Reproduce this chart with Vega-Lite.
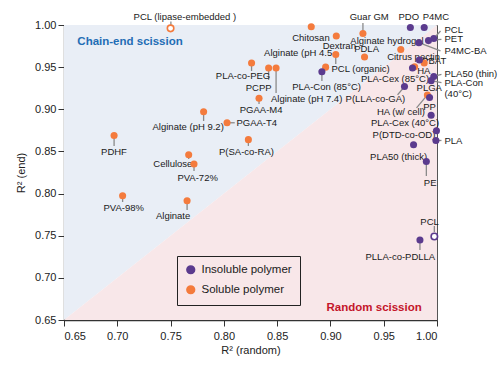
{
  "$schema": "https://vega.github.io/schema/vega-lite/v6.json",
  "width": 373,
  "height": 295,
  "autosize": {"type": "none"},
  "padding": {"left": 64, "top": 25, "right": 63, "bottom": 45},
  "config": {
    "font": "Liberation Sans",
    "view": {"stroke": "#555", "strokeWidth": 1},
    "axis": {"grid": false, "domainColor": "#333", "domainWidth": 1.3, "tickColor": "#333", "tickSize": 6, "labelColor": "#222", "labelFontSize": 11, "titleFontSize": 11, "titleFontWeight": "normal", "titleColor": "#222"}
  },
  "datasets": {
    "regions": [
      {"x": 0.65, "d": 0.65, "top": 1.0, "bottom": 0.65},
      {"x": 1.0, "d": 1.0, "top": 1.0, "bottom": 0.65}
    ],
    "points": [
      {"name": "PCL (lipase-embedded)", "x": 0.750, "y": 0.996, "type": "Soluble polymer", "hollow": true},
      {"name": "PLA-co-PEG", "x": 0.826, "y": 0.955, "type": "Soluble polymer", "hollow": false},
      {"name": "PCPP", "x": 0.842, "y": 0.949, "type": "Soluble polymer", "hollow": false},
      {"name": "Alginate (pH 7.4)", "x": 0.849, "y": 0.949, "type": "Soluble polymer", "hollow": false},
      {"name": "Alginate (pH 4.5)", "x": 0.8955, "y": 0.950, "type": "Soluble polymer", "hollow": false},
      {"name": "PCL (organic)", "x": 0.905, "y": 0.965, "type": "Soluble polymer", "hollow": false},
      {"name": "Chitosan", "x": 0.882, "y": 0.998, "type": "Soluble polymer", "hollow": false},
      {"name": "Dextran", "x": 0.9055, "y": 0.987, "type": "Soluble polymer", "hollow": false},
      {"name": "Guar GM", "x": 0.9305, "y": 0.990, "type": "Soluble polymer", "hollow": false},
      {"name": "PDLA", "x": 0.932, "y": 0.962, "type": "Soluble polymer", "hollow": false},
      {"name": "Citrus pectin", "x": 0.966, "y": 0.971, "type": "Soluble polymer", "hollow": false},
      {"name": "HA", "x": 0.988, "y": 0.955, "type": "Soluble polymer", "hollow": false},
      {"name": "Alginate hydrogel", "x": 0.979, "y": 0.9505, "type": "Soluble polymer", "hollow": false},
      {"name": "HA (w/ cell)", "x": 0.991, "y": 0.917, "type": "Soluble polymer", "hollow": false},
      {"name": "PGAA-M4", "x": 0.833, "y": 0.913, "type": "Soluble polymer", "hollow": false},
      {"name": "Alginate (pH 9.2)", "x": 0.781, "y": 0.897, "type": "Soluble polymer", "hollow": false},
      {"name": "PGAA-T4", "x": 0.803, "y": 0.884, "type": "Soluble polymer", "hollow": false},
      {"name": "PDHF", "x": 0.697, "y": 0.869, "type": "Soluble polymer", "hollow": false},
      {"name": "P(SA-co-RA)", "x": 0.823, "y": 0.864, "type": "Soluble polymer", "hollow": false},
      {"name": "Cellulose", "x": 0.767, "y": 0.846, "type": "Soluble polymer", "hollow": false},
      {"name": "PVA-72%", "x": 0.772, "y": 0.835, "type": "Soluble polymer", "hollow": false},
      {"name": "PVA-98%", "x": 0.705, "y": 0.7975, "type": "Soluble polymer", "hollow": false},
      {"name": "Alginate", "x": 0.7655, "y": 0.7915, "type": "Soluble polymer", "hollow": false},
      {"name": "PDO", "x": 0.975, "y": 0.997, "type": "Insoluble polymer", "hollow": false},
      {"name": "P4MC", "x": 0.988, "y": 0.997, "type": "Insoluble polymer", "hollow": false},
      {"name": "PCL", "x": 0.997, "y": 0.984, "type": "Insoluble polymer", "hollow": false},
      {"name": "PET", "x": 0.992, "y": 0.9815, "type": "Insoluble polymer", "hollow": false},
      {"name": "P4MC-BA", "x": 0.983, "y": 0.979, "type": "Insoluble polymer", "hollow": false},
      {"name": "PBAT", "x": 0.9835, "y": 0.9585, "type": "Insoluble polymer", "hollow": false},
      {"name": "PLA-Cex (85°C)", "x": 0.977, "y": 0.949, "type": "Insoluble polymer", "hollow": false},
      {"name": "PLA50 (thin)", "x": 0.997, "y": 0.939, "type": "Insoluble polymer", "hollow": false},
      {"name": "PLA-Con (40°C)", "x": 0.9945, "y": 0.934, "type": "Insoluble polymer", "hollow": false},
      {"name": "P(LLA-co-GA)", "x": 0.9695, "y": 0.927, "type": "Insoluble polymer", "hollow": false},
      {"name": "PLGA", "x": 0.993, "y": 0.914, "type": "Insoluble polymer", "hollow": false},
      {"name": "PP", "x": 0.9945, "y": 0.893, "type": "Insoluble polymer", "hollow": false},
      {"name": "PLA-Cex (40°C)", "x": 0.9995, "y": 0.8745, "type": "Insoluble polymer", "hollow": false},
      {"name": "PLA", "x": 0.999, "y": 0.863, "type": "Insoluble polymer", "hollow": false},
      {"name": "P(DTD-co-OD)", "x": 0.978, "y": 0.858, "type": "Insoluble polymer", "hollow": false},
      {"name": "PE", "x": 0.990, "y": 0.838, "type": "Insoluble polymer", "hollow": false},
      {"name": "PCL (bottom)", "x": 0.9975, "y": 0.749, "type": "Insoluble polymer", "hollow": true},
      {"name": "PLLA-co-PDLLA", "x": 0.984, "y": 0.745, "type": "Insoluble polymer", "hollow": false},
      {"name": "PLA-Con (85°C)", "x": 0.892, "y": 0.9445, "type": "Insoluble polymer", "hollow": false}
    ],
    "lines": [
      {"x": 0.7503, "y": 1.0, "x2": 0.7503, "y2": 1.0041},
      {"x": 0.826, "y": 0.955, "x2": 0.826, "y2": 0.9454},
      {"x": 0.842, "y": 0.949, "x2": 0.842, "y2": 0.9348},
      {"x": 0.849, "y": 0.949, "x2": 0.849, "y2": 0.9193},
      {"x": 0.905, "y": 0.965, "x2": 0.905, "y2": 0.9537},
      {"x": 0.892, "y": 0.9445, "x2": 0.892, "y2": 0.9336},
      {"x": 0.9305, "y": 0.990, "x2": 0.9305, "y2": 1.0024},
      {"x": 0.966, "y": 0.971, "x2": 0.966, "y2": 0.968},
      {"x": 0.9695, "y": 0.927, "x2": 0.963, "y2": 0.917},
      {"x": 0.991, "y": 0.917, "x2": 0.9808, "y2": 0.9016},
      {"x": 0.990, "y": 0.838, "x2": 0.990, "y2": 0.8209},
      {"x": 0.9975, "y": 0.7545, "x2": 0.9975, "y2": 0.7616},
      {"x": 0.984, "y": 0.745, "x2": 0.984, "y2": 0.7331},
      {"x": 0.999, "y": 0.863, "x2": 1.0042, "y2": 0.863},
      {"x": 0.997, "y": 0.984, "x2": 1.0033, "y2": 0.9929},
      {"x": 0.9948, "y": 0.9822, "x2": 1.0042, "y2": 0.983},
      {"x": 0.983, "y": 0.979, "x2": 1.0033, "y2": 0.9692},
      {"x": 0.997, "y": 0.939, "x2": 1.0042, "y2": 0.9413},
      {"x": 0.9945, "y": 0.934, "x2": 1.0042, "y2": 0.9316},
      {"x": 0.781, "y": 0.897, "x2": 0.781, "y2": 0.8861},
      {"x": 0.803, "y": 0.884, "x2": 0.8102, "y2": 0.884},
      {"x": 0.697, "y": 0.869, "x2": 0.697, "y2": 0.8565},
      {"x": 0.823, "y": 0.864, "x2": 0.823, "y2": 0.8565},
      {"x": 0.772, "y": 0.835, "x2": 0.772, "y2": 0.8268},
      {"x": 0.705, "y": 0.7975, "x2": 0.705, "y2": 0.79},
      {"x": 0.7655, "y": 0.7915, "x2": 0.7655, "y2": 0.7806},
      {"x": 0.833, "y": 0.913, "x2": 0.833, "y2": 0.9063},
      {"x": 0.767, "y": 0.846, "x2": 0.767, "y2": 0.841}
    ],
    "labels": [
      {"text": "PCL (lipase-embedded )", "x": 0.7634, "y": 1.0091, "anchor": "center"},
      {"text": "PLA-co-PEG", "x": 0.818, "y": 0.9395, "anchor": "center"},
      {"text": "PCPP", "x": 0.8327, "y": 0.9256, "anchor": "center"},
      {"text": "Alginate (pH 7.4)", "x": 0.8777, "y": 0.9119, "anchor": "center"},
      {"text": "Alginate (pH 4.5", "x": 0.8697, "y": 0.9664, "anchor": "center"},
      {"text": "PCL (organic)", "x": 0.9283, "y": 0.9478, "anchor": "center"},
      {"text": "PLA-Con (85°C)", "x": 0.8964, "y": 0.9261, "anchor": "center"},
      {"text": "Chitosan", "x": 0.8817, "y": 0.985, "anchor": "center"},
      {"text": "Dextran", "x": 0.9083, "y": 0.9751, "anchor": "center"},
      {"text": "Guar GM", "x": 0.9364, "y": 1.0091, "anchor": "center"},
      {"text": "Alginate hydrogel", "x": 0.9531, "y": 0.9814, "anchor": "center"},
      {"text": "PDLA", "x": 0.9339, "y": 0.9715, "anchor": "center"},
      {"text": "Citrus pectin", "x": 0.978, "y": 0.9624, "anchor": "center"},
      {"text": "PBAT", "x": 0.9973, "y": 0.9577, "anchor": "center"},
      {"text": "HA", "x": 0.9876, "y": 0.9454, "anchor": "center"},
      {"text": "PLA-Cex (85°C)", "x": 0.9606, "y": 0.936, "anchor": "center"},
      {"text": "P(LLA-co-GA)", "x": 0.9422, "y": 0.9119, "anchor": "center"},
      {"text": "PLGA", "x": 0.9927, "y": 0.9249, "anchor": "center"},
      {"text": "HA (w/ cell)", "x": 0.9662, "y": 0.8964, "anchor": "center"},
      {"text": "PP", "x": 0.993, "y": 0.9024, "anchor": "center"},
      {"text": "PLA-Cex (40°C)", "x": 0.97, "y": 0.8841, "anchor": "center"},
      {"text": "P(DTD-co-OD)", "x": 0.969, "y": 0.8695, "anchor": "center"},
      {"text": "PLA50 (thick)", "x": 0.964, "y": 0.843, "anchor": "center"},
      {"text": "PE", "x": 0.9936, "y": 0.813, "anchor": "center"},
      {"text": "PCL", "x": 0.993, "y": 0.7667, "anchor": "center"},
      {"text": "PLLA-co-PDLLA", "x": 0.9656, "y": 0.7245, "anchor": "center"},
      {"text": "PDO", "x": 0.9735, "y": 1.0098, "anchor": "center"},
      {"text": "P4MC", "x": 0.999, "y": 1.0098, "anchor": "center"},
      {"text": "PGAA-M4", "x": 0.835, "y": 0.8992, "anchor": "center"},
      {"text": "Alginate (pH 9.2)", "x": 0.7665, "y": 0.8794, "anchor": "center"},
      {"text": "PDHF", "x": 0.6969, "y": 0.849, "anchor": "center"},
      {"text": "P(SA-co-RA)", "x": 0.8212, "y": 0.849, "anchor": "center"},
      {"text": "Cellulose", "x": 0.7521, "y": 0.8351, "anchor": "center"},
      {"text": "PVA-72%", "x": 0.7754, "y": 0.8189, "anchor": "center"},
      {"text": "PVA-98%", "x": 0.706, "y": 0.7826, "anchor": "center"},
      {"text": "Alginate", "x": 0.7524, "y": 0.7735, "anchor": "center"},
      {"text": "PLA", "x": 1.007, "y": 0.8628, "anchor": "left"},
      {"text": "PCL", "x": 1.007, "y": 0.994, "anchor": "left"},
      {"text": "PET", "x": 1.007, "y": 0.983, "anchor": "left"},
      {"text": "P4MC-BA", "x": 1.007, "y": 0.9695, "anchor": "left"},
      {"text": "PLA50 (thin)", "x": 1.007, "y": 0.9419, "anchor": "left"},
      {"text": "PLA-Con", "x": 1.007, "y": 0.9316, "anchor": "left"},
      {"text": "(40°C)", "x": 1.007, "y": 0.9178, "anchor": "left"},
      {"text": "PGAA-T4", "x": 0.8118, "y": 0.8841, "anchor": "left"}
    ],
    "regionText": [
      {"text": "Chain-end scission", "x": 0.6625, "y": 0.9795, "kind": "chain"},
      {"text": "Random scission", "x": 0.9857, "y": 0.6647, "kind": "random"}
    ]
  },
  "layer": [
    {
      "data": {"name": "regions"},
      "mark": {"type": "area", "color": "#e9eef6", "opacity": 1},
      "encoding": {
        "x": {"field": "x", "type": "quantitative", "scale": {"domain": [0.65, 1.0], "nice": false, "zero": false}, "axis": {"values": [0.65, 0.7, 0.75, 0.8, 0.85, 0.9, 0.95, 1.0], "format": ".2f", "title": "R² (random)", "labelPadding": 4, "titlePadding": 3}},
        "y": {"field": "d", "type": "quantitative", "scale": {"domain": [0.65, 1.0], "nice": false, "zero": false}, "axis": {"values": [0.65, 0.7, 0.75, 0.8, 0.85, 0.9, 0.95, 1.0], "format": ".2f", "title": "R² (end)", "labelPadding": 2, "titlePadding": 8}},
        "y2": {"field": "top"}
      }
    },
    {
      "data": {"name": "regions"},
      "mark": {"type": "area", "color": "#f8e7e9", "opacity": 1},
      "encoding": {
        "x": {"field": "x", "type": "quantitative"},
        "y": {"field": "bottom", "type": "quantitative"},
        "y2": {"field": "d"}
      }
    },
    {
      "data": {"name": "lines"},
      "mark": {"type": "rule", "color": "#8a8a8a", "strokeWidth": 1.3},
      "encoding": {
        "x": {"field": "x", "type": "quantitative"},
        "y": {"field": "y", "type": "quantitative"},
        "x2": {"field": "x2"},
        "y2": {"field": "y2"}
      }
    },
    {
      "data": {"name": "labels"},
      "transform": [{"filter": "datum.anchor === 'center'"}],
      "mark": {"type": "text", "align": "center", "baseline": "middle", "fontSize": 9.5, "color": "#1a1a1a"},
      "encoding": {
        "x": {"field": "x", "type": "quantitative"},
        "y": {"field": "y", "type": "quantitative"},
        "text": {"field": "text"}
      }
    },
    {
      "data": {"name": "labels"},
      "transform": [{"filter": "datum.anchor === 'left'"}],
      "mark": {"type": "text", "align": "left", "baseline": "middle", "fontSize": 9.5, "color": "#1a1a1a"},
      "encoding": {
        "x": {"field": "x", "type": "quantitative"},
        "y": {"field": "y", "type": "quantitative"},
        "text": {"field": "text"}
      }
    },
    {
      "data": {"name": "regionText"},
      "transform": [{"filter": "datum.kind === 'chain'"}],
      "mark": {"type": "text", "align": "left", "baseline": "middle", "fontSize": 11.5, "fontWeight": "bold", "color": "#1f6db5"},
      "encoding": {
        "x": {"field": "x", "type": "quantitative"},
        "y": {"field": "y", "type": "quantitative"},
        "text": {"field": "text"}
      }
    },
    {
      "data": {"name": "regionText"},
      "transform": [{"filter": "datum.kind === 'random'"}],
      "mark": {"type": "text", "align": "right", "baseline": "middle", "fontSize": 11.5, "fontWeight": "bold", "color": "#c4152a"},
      "encoding": {
        "x": {"field": "x", "type": "quantitative"},
        "y": {"field": "y", "type": "quantitative"},
        "text": {"field": "text"}
      }
    },
    {
      "data": {"name": "points"},
      "transform": [{"filter": "!datum.hollow"}],
      "mark": {"type": "circle", "size": 50, "opacity": 1},
      "encoding": {
        "x": {"field": "x", "type": "quantitative"},
        "y": {"field": "y", "type": "quantitative"},
        "color": {
          "field": "type", "type": "nominal",
          "scale": {"domain": ["Insoluble polymer", "Soluble polymer"], "range": ["#5b3b8e", "#f47b3d"]},
          "legend": {"title": null, "orient": "none", "legendX": 113, "legendY": 231, "strokeColor": "#222", "padding": 8, "labelFontSize": 11.5, "labelColor": "#1a1a1a", "symbolSize": 60, "symbolType": "circle", "rowPadding": 5, "labelOffset": 5}
        }
      }
    },
    {
      "data": {"name": "points"},
      "transform": [{"filter": "datum.hollow"}],
      "mark": {"type": "point", "shape": "circle", "filled": false, "fill": "white", "fillOpacity": 1, "strokeWidth": 1.6, "size": 42, "opacity": 1},
      "encoding": {
        "x": {"field": "x", "type": "quantitative"},
        "y": {"field": "y", "type": "quantitative"},
        "color": {"field": "type", "type": "nominal", "legend": null}
      }
    }
  ]
}
